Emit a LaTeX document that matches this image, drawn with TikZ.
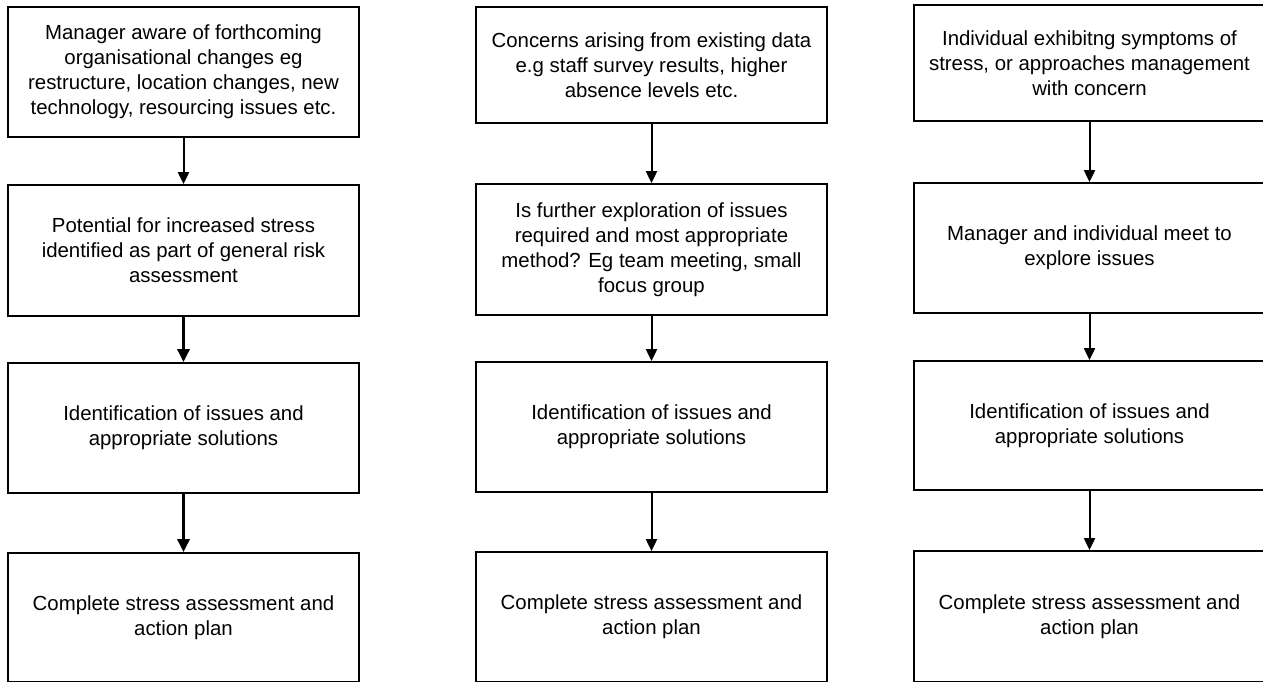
\documentclass[tikz,border=0pt]{standalone}
\usepackage{fontspec}
\setmainfont{Liberation Sans}
\usetikzlibrary{arrows.meta}
\begin{document}
\begin{tikzpicture}[x=1pt,y=-1pt,
  stepbox/.style={draw=black, line width=1.8pt, rectangle, minimum width=351pt,
    inner sep=0pt, align=center, font=\fontsize{20.4}{25}\selectfont},
  flow/.style={draw=black, line width=2pt, -{Triangle[width=11pt,length=12pt]}},
  heavyflow/.style={flow, line width=3pt, -{Triangle[width=12pt,length=13pt]}}
]
\useasboundingbox (0,0) rectangle (1263,681);

% column 1: organisational change
\node[stepbox, minimum height=130pt] (b11) at (183.5,72)
  {Manager aware of forthcoming\\organisational changes eg\\restructure, location changes, new\\technology, resourcing issues etc.};
\node[stepbox, minimum height=131pt] (b12) at (183.5,250.5)
  {Potential for increased stress\\identified as part of general risk\\assessment};
\node[stepbox, minimum height=130pt] (b13) at (183.5,428)
  {Identification of issues and\\appropriate solutions};
\node[stepbox, minimum height=129pt] (b14) at (183.5,617.5)
  {Complete stress assessment and\\action plan};

% column 2: existing data
\node[stepbox, minimum height=116pt] (b21) at (651.5,65)
  {Concerns arising from existing data\\e.g staff survey results, higher\\absence levels etc.};
\node[stepbox, minimum height=131pt] (b22) at (651.5,249.5)
  {Is further exploration of issues\\required and most appropriate\\method? Eg team meeting, small\\focus group};
\node[stepbox, minimum height=130pt] (b23) at (651.5,427)
  {Identification of issues and\\appropriate solutions};
\node[stepbox, minimum height=130pt] (b24) at (651.5,617)
  {Complete stress assessment and\\action plan};

% column 3: individual concern
\node[stepbox, minimum height=116pt] (b31) at (1089.5,63)
  {Individual exhibitng symptoms of\\stress, or approaches management\\with concern};
\node[stepbox, minimum height=130pt] (b32) at (1089.5,248)
  {Manager and individual meet to\\explore issues};
\node[stepbox, minimum height=129pt] (b33) at (1089.5,425.5)
  {Identification of issues and\\appropriate solutions};
\node[stepbox, minimum height=131pt] (b34) at (1089.5,616.5)
  {Complete stress assessment and\\action plan};

% connectors
\draw[flow] (b11) -- (b12);
\draw[heavyflow] (b12) -- (b13);
\draw[heavyflow] (b13) -- (b14);
\draw[flow] (b21) -- (b22);
\draw[flow] (b22) -- (b23);
\draw[flow] (b23) -- (b24);
\draw[flow] (b31) -- (b32);
\draw[flow] (b32) -- (b33);
\draw[flow] (b33) -- (b34);
\end{tikzpicture}
\end{document}
